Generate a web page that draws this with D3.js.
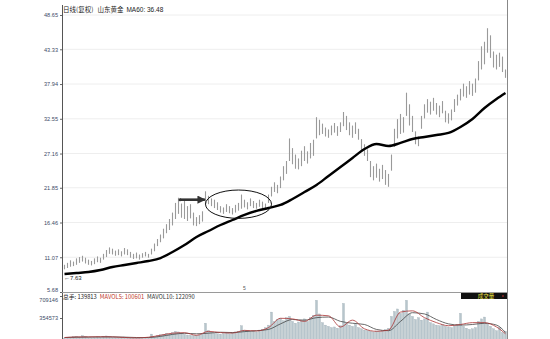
<!DOCTYPE html>
<html><head><meta charset="utf-8">
<script src="https://cdn.jsdelivr.net/npm/d3@7"></script>
<style>body{margin:0;background:#fff}svg{display:block}</style>
</head><body><svg id="c" width="550" height="339"></svg>
<script>
const priceTicks = [5.68, 11.07, 16.46, 21.85, 27.16, 32.55, 37.94, 43.33, 48.65];
const priceTickLabels = ["5.68","11.07","16.46","21.85","27.16","32.55","37.94","43.33","48.65"];
const highs = [9.9,10.2,10.6,10.4,10.9,11.1,11.3,11.0,10.7,10.5,10.9,11.2,11.0,11.6,12.2,12.6,12.4,12.1,12.3,12.0,
12.5,12.3,11.9,11.6,11.8,11.5,11.7,11.9,11.6,12.4,13.2,13.9,14.6,15.5,16.2,17.0,18.0,19.5,20.3,19.4,
19.8,19.0,19.3,18.0,17.3,17.6,18.2,21.3,20.6,20.2,20.0,19.6,19.0,18.8,19.3,19.0,18.7,19.2,19.5,20.8,
20.0,19.6,20.2,19.8,19.5,20.0,19.7,19.4,20.8,22.0,22.7,22.3,23.6,25.2,26.0,29.5,28.0,27.0,26.4,27.6,
28.3,27.5,28.8,29.3,32.8,32.4,31.8,31.2,30.9,31.5,31.9,31.4,32.0,33.6,33.0,32.0,31.5,32.0,31.0,29.4,
28.6,27.8,26.0,25.2,25.6,24.8,25.4,24.6,24.0,27.0,31.0,32.5,33.3,32.8,36.6,34.8,33.0,30.6,29.8,33.0,
34.8,35.6,35.2,35.8,35.0,34.6,35.3,33.8,33.4,34.0,35.6,36.3,37.2,38.0,37.6,38.4,38.0,38.8,41.5,43.8,
44.5,46.6,45.5,43.0,42.5,42.8,42.2,40.2];
const lows = [9.2,9.4,9.6,9.7,9.9,10.2,10.4,10.1,9.9,9.8,10.0,10.3,10.2,10.7,11.1,11.6,11.5,11.3,11.4,11.2,
11.5,11.4,11.0,10.8,10.9,10.7,11.0,11.2,11.0,11.5,12.0,12.8,13.4,14.0,14.8,15.3,16.0,17.0,17.8,17.2,
17.0,16.7,17.1,16.0,15.9,16.2,16.6,19.2,19.3,19.0,18.7,18.4,18.0,17.8,18.1,17.9,17.7,18.0,18.3,18.6,
18.8,18.5,19.0,18.7,18.6,18.9,18.6,18.5,19.5,20.5,21.2,21.0,21.8,23.0,24.0,26.0,25.5,24.8,24.7,25.2,
26.0,25.6,26.4,26.8,29.5,30.0,30.2,29.8,29.6,30.0,30.4,29.9,30.5,31.4,30.8,30.0,29.6,30.2,29.3,27.5,
26.8,26.0,23.5,23.0,23.4,22.8,23.2,22.3,22.0,24.5,28.2,29.5,30.2,30.4,33.0,31.5,30.5,28.6,28.3,31.0,
32.6,33.5,33.2,33.8,33.2,32.8,33.4,32.0,31.8,32.3,33.6,34.6,35.4,36.0,35.8,36.3,36.1,36.6,38.5,40.2,
41.0,42.8,42.0,40.5,40.2,40.6,39.8,38.9];
const maIndex = [0,4,8,12,16,20,24,28,32,36,40,44,48,52,56,60,64,68,72,76,80,84,88,92,96,100,104,108,112,116,120,124,128,132,136,140,144,147];
const ma60 = [8.47,8.63,8.78,9.09,9.56,9.87,10.18,10.49,10.95,11.89,12.97,14.21,15.14,16.07,16.85,17.63,18.25,18.71,19.18,20.11,
21.19,22.28,23.68,25.07,26.47,27.86,28.64,28.33,28.80,29.42,29.73,30.04,30.35,31.28,32.52,34.22,35.62,36.55];
const volume = [30000,45000,38000,52000,60000,48000,70000,55000,42000,36000,
40000,50000,46000,58000,65000,52000,44000,38000,35000,42000,
48000,40000,33000,30000,36000,32000,28000,34000,40000,95000,
60000,72000,85000,90000,110000,95000,120000,140000,130000,105000,
90000,80000,75000,70000,68000,80000,95000,270000,150000,120000,
110000,100000,95000,105000,115000,100000,120000,130000,140000,230000,
160000,150000,135000,145000,130000,160000,175000,200000,240000,450000,
300000,330000,350000,310000,360000,380000,300000,270000,290000,320000,
340000,300000,360000,400000,640000,420000,280000,240000,220000,200000,
210000,190000,230000,590000,270000,240000,220000,250000,200000,180000,
160000,150000,140000,130000,145000,135000,150000,170000,190000,380000,
460000,500000,430000,480000,640000,420000,380000,330000,360000,320000,
340000,450000,280000,260000,240000,230000,250000,220000,210000,200000,
230000,250000,430000,220000,190000,170000,180000,200000,300000,340000,
370000,260000,220000,180000,150000,200000,120000,139813];
const mavol5 = [40000,49000,50000,52000,50000,41000,34000,45000,76000,110000,118000,75000,140000,120000,112000,155000,146000,200000,350000,340000,
300000,400000,390000,210000,320000,180000,140000,160000,450000,470000,360000,280000,230000,250000,280000,280000,210000,100601];
const mavol10 = [40000,45000,48000,50000,51000,46000,40000,40000,58000,90000,108000,100000,110000,125000,120000,135000,150000,170000,260000,330000,
320000,360000,370000,300000,270000,250000,170000,150000,300000,440000,420000,330000,260000,240000,250000,270000,240000,122090];
const volTicks = [354573, 709146];
const titleParts = ["日线(复权)", "山东黄金", "MA60: 36.48"];
const volLegend = [["总手: 139813", "#222"], ["MAVOL5: 100601", "#c0392b"], ["MAVOL10: 122090", "#333"]];

const svg = d3.select("#c");
const x = d3.scaleLinear().domain([-0.5, highs.length - 0.5]).range([63, 507]);
const y = d3.scaleLinear().domain([5.68, 48.65]).range([292, 15]);
const yv = d3.scaleLinear().domain([0, 709146]).range([340, 296]);
const font = "'Liberation Sans', Arial, sans-serif";
const cjk = "'Noto Sans CJK SC', sans-serif";

// gridlines
svg.append("g").selectAll("line").data(priceTicks.slice(1)).join("line")
  .attr("x1", 63).attr("x2", 507).attr("y1", d => y(d)).attr("y2", d => y(d))
  .attr("stroke", "#eeeeee").attr("stroke-width", 1);

// y axis price
const ay = svg.append("g").attr("transform", "translate(62,0)")
  .call(d3.axisLeft(y).tickValues(priceTicks).tickFormat((d, i) => priceTickLabels[i]).tickSize(2).tickPadding(2));
ay.select(".domain").remove();
ay.selectAll("text").attr("font-size", 5.6).attr("font-family", font).attr("fill", "#3c4a66");
ay.selectAll("line").attr("stroke", "#666");
ay.selectAll(".tick").filter(d => d === priceTicks[0]).select("text").attr("dy", "-0.1em");

// volume axis
const av = svg.append("g").attr("transform", "translate(62,0)")
  .call(d3.axisLeft(yv).tickValues(volTicks).tickFormat(d3.format("d")).tickSize(2).tickPadding(2));
av.select(".domain").remove();
av.selectAll("text").attr("font-size", 5.6).attr("font-family", font).attr("fill", "#3c4a66");
av.selectAll("line").attr("stroke", "#666");
av.selectAll(".tick").filter(d => d === volTicks[1]).select("text").attr("dy", "0.95em");

// frame lines
svg.append("line").attr("x1", 62.5).attr("x2", 62.5).attr("y1", 5).attr("y2", 339).attr("stroke", "#555");
svg.append("line").attr("x1", 507.5).attr("x2", 507.5).attr("y1", 0).attr("y2", 339).attr("stroke", "#888");
svg.append("line").attr("x1", 62).attr("x2", 507).attr("y1", 292.5).attr("y2", 292.5).attr("stroke", "#9a9a9a");

// price bars
svg.append("g").selectAll("line").data(highs).join("line")
  .attr("x1", (d, i) => x(i)).attr("x2", (d, i) => x(i))
  .attr("y1", d => y(d)).attr("y2", (d, i) => y(lows[i]))
  .attr("stroke", "#9a9a9a").attr("stroke-width", 1.1);

// MA60
const maData = maIndex.map((d, i) => [d, ma60[i]]);
svg.append("path").datum(maData)
  .attr("d", d3.line().x(d => x(d[0])).y(d => y(d[1])).curve(d3.curveMonotoneX))
  .attr("fill", "none").attr("stroke", "#000").attr("stroke-width", 2.4);

// volume bars
svg.append("g").selectAll("rect").data(volume).join("rect")
  .attr("x", (d, i) => x(i) - 1).attr("width", 2)
  .attr("y", d => yv(d)).attr("height", d => 340 - yv(d))
  .attr("fill", "#b7c5cc").attr("stroke", "#9aa9b1").attr("stroke-width", 0.3);

// volume MAs
const vline = d3.line().x(d => x(d[0])).y(d => yv(d[1])).curve(d3.curveMonotoneX);
svg.append("path").datum(maIndex.map((d, i) => [d, mavol10[i]])).attr("d", vline)
  .attr("fill", "none").attr("stroke", "#444").attr("stroke-width", 0.8);
svg.append("path").datum(maIndex.map((d, i) => [d, mavol5[i]])).attr("d", vline)
  .attr("fill", "none").attr("stroke", "#a33").attr("stroke-width", 0.8);

// title
const t = svg.append("text").attr("x", 63).attr("y", 12).attr("font-size", 6.5).attr("fill", "#222").attr("font-family", cjk);
t.append("tspan").text(titleParts[0]);
t.append("tspan").attr("dx", 4).text(titleParts[1]);
t.append("tspan").attr("dx", 3).attr("font-family", font).text(titleParts[2]);

// lowest marker
svg.append("text").attr("x", 64).attr("y", 280).attr("font-size", 6).attr("font-family", font).attr("fill", "#222").text("←7.63");

// small date mark
svg.append("text").attr("x", x(60)).attr("y", 290).attr("font-size", 5).attr("font-family", font).attr("fill", "#555").attr("text-anchor", "middle").text("5");

// volume legend
const vl = svg.append("text").attr("x", 63).attr("y", 299).attr("font-size", 5.8).attr("font-family", cjk);
volLegend.forEach((d, i) => vl.append("tspan").attr("dx", i ? 3 : 0).attr("fill", d[1]).text(d[0]));

// black box
svg.append("rect").attr("x", 461).attr("y", 293).attr("width", 46).attr("height", 6).attr("fill", "#111");
svg.append("text").attr("x", 486).attr("y", 298.3).attr("font-size", 5.5).attr("font-family", cjk).attr("fill", "#e8e040").attr("text-anchor", "middle").text("成交量");
svg.append("rect").attr("x", 502).attr("y", 295.5).attr("width", 2).attr("height", 1).attr("fill", "#c33");

// annotation: ellipse and arrow (in data space)
svg.append("ellipse").attr("cx", x(58)).attr("cy", y(19.3)).attr("rx", x(69) - x(58)).attr("ry", y(19.3) - y(21.5))
  .attr("fill", "none").attr("stroke", "#111").attr("stroke-width", 1);
const defs = svg.append("defs");
defs.append("marker").attr("id", "ah").attr("viewBox", "0 0 10 10").attr("refX", 9).attr("refY", 5)
  .attr("markerWidth", 3.2).attr("markerHeight", 3.2).attr("orient", "auto")
  .append("path").attr("d", "M0,0 L10,5 L0,10 z").attr("fill", "#333");
svg.append("line").attr("x1", x(38.5)).attr("x2", x(46.8)).attr("y1", y(20)).attr("y2", y(20))
  .attr("stroke", "#333").attr("stroke-width", 2.6).attr("marker-end", "url(#ah)");
svg.append("circle").attr("cx", x(38.5)).attr("cy", y(20)).attr("r", 1.5).attr("fill", "#333");
</script></body></html>
